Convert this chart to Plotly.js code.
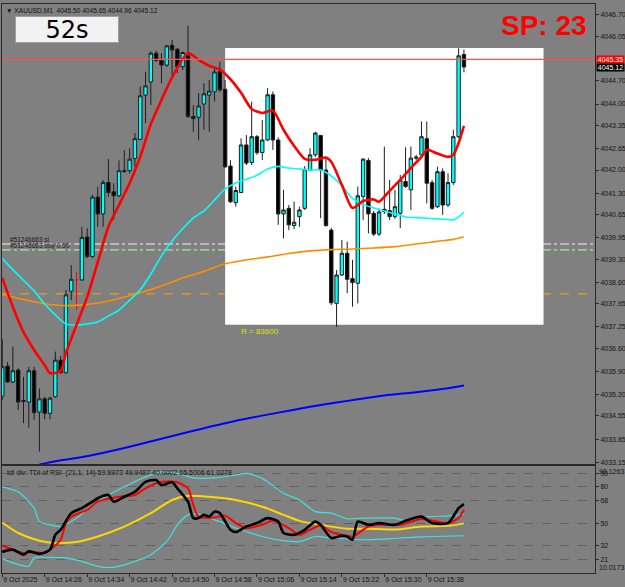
<!DOCTYPE html>
<html><head><meta charset="utf-8">
<script src="https://cdn.plot.ly/plotly-3.0.1.min.js"></script>
<style>html,body{margin:0;padding:0;background:#808080;overflow:hidden}#chart{width:625px;height:587px;}</style>
</head><body><div id="chart"></div>
<script>
// ---------- DATA ----------
const symbolTitle = 'XAUUSD,M1  4045.50 4045.65 4044.96 4045.12';
const timerText = '52s';
const spreadText = 'SP: 23';
const tickBars = [0, 8, 16, 24, 32, 40, 48, 56, 64, 72, 80];
const tickLabels = ['9 Oct 2025', '9 Oct 14:26', '9 Oct 14:34', '9 Oct 14:42', '9 Oct 14:50', '9 Oct 14:58', '9 Oct 15:06', '9 Oct 15:14', '9 Oct 15:22', '9 Oct 15:30', '9 Oct 15:38'];
const priceTicks = [4046.70, 4046.05, 4044.70, 4044.00, 4043.35, 4042.65, 4042.00, 4041.30, 4040.65, 4039.95, 4039.30, 4038.60, 4037.95, 4037.25, 4036.60, 4035.90, 4035.20, 4034.55, 4033.85, 4033.15];
const tdiTicks = [90, 80, 68, 50, 32, 21];
const tdiMin = 10.0173, tdiMax = 96.1263;

const open = [4035.15,4036.06,4035.58,4035.94,4035.02,4034.97,4035.92,4034.67,4035.07,4034.63,
4035.13,4036.24,4035.86,4038.33,4038.67,4038.67,4039.97,4039.38,4041.18,4040.67,
4041.62,4041.34,4041.22,4041.98,4041.98,4042.35,4042.93,4044.27,4044.67,4045.54,
4045.32,4045.18,4045.78,4045.66,4045.13,4045.46,4043.62,4043.60,4044.00,4044.27,
4044.37,4044.98,4044.45,4042.12,4041.01,4041.32,4042.76,4042.23,4043.01,4042.53,
4042.91,4044.28,4042.91,4040.67,4040.84,4040.32,4040.59,4040.84,4042.00,4042.46,
4043.05,4042.00,4040.18,4037.96,4038.82,4039.48,4038.71,4038.57,4041.20,4042.29,
4040.69,4040.06,4040.81,4040.77,4040.59,4040.69,4041.65,4041.40,4042.36,4042.46,
4042.95,4041.62,4040.89,4041.95,4040.94,4041.62,4043.01,4045.50];
const high = [4036.87,4036.19,4036.65,4036.00,4035.74,4036.04,4036.04,4035.38,4035.13,4035.13,
4036.50,4036.37,4038.37,4039.12,4038.92,4040.28,4040.24,4041.25,4041.50,4041.70,
4042.33,4041.60,4042.29,4042.61,4042.66,4043.12,4044.53,4044.98,4045.59,4045.62,
4045.54,4045.79,4045.94,4045.70,4045.59,4046.37,4043.97,4044.33,4044.63,4044.73,
4045.13,4045.28,4044.73,4042.30,4041.50,4042.96,4043.06,4044.07,4043.06,4043.52,
4044.48,4044.38,4042.99,4041.40,4040.94,4041.04,4040.89,4042.12,4042.66,4043.16,
4043.06,4042.40,4040.25,4038.97,4039.88,4039.83,4039.28,4041.50,4042.36,4042.36,
4040.76,4040.84,4042.71,4041.70,4041.40,4041.85,4042.69,4042.71,4042.46,4043.47,
4043.47,4041.70,4042.10,4042.05,4041.90,4043.22,4045.69,4045.65];
const low = [4035.03,4035.55,4035.55,4034.73,4034.33,4034.19,4034.43,4033.47,4034.45,4034.45,
4035.10,4035.84,4035.84,4038.06,4037.76,4038.65,4039.33,4039.34,4040.28,4040.28,
4041.19,4040.49,4041.18,4041.91,4041.90,4042.10,4042.91,4043.42,4043.97,4045.28,
4044.63,4045.12,4044.88,4044.93,4045.03,4043.58,4043.16,4042.91,4043.22,4043.16,
4044.07,4044.37,4042.06,4041.00,4040.89,4041.30,4042.15,4042.15,4042.46,4042.30,
4042.88,4042.61,4040.34,4039.93,4040.18,4040.21,4040.28,4040.79,4041.97,4042.40,
4040.54,4040.28,4037.91,4037.25,4038.79,4038.27,4037.86,4037.96,4040.49,4040.08,
4040.00,4040.00,4040.67,4040.49,4040.52,4040.24,4041.46,4040.79,4042.30,4042.40,
4040.99,4040.79,4040.85,4040.64,4040.88,4041.55,4042.97,4044.96];
const close = [4036.04,4035.58,4035.92,4034.97,4034.99,4035.92,4034.65,4035.07,4034.63,4035.09,
4036.24,4035.86,4038.22,4038.69,4038.67,4039.96,4039.38,4041.18,4040.67,4041.62,
4041.32,4041.22,4041.98,4041.96,4042.33,4042.95,4044.25,4044.55,4045.54,4045.32,
4045.18,4045.76,4045.64,4045.13,4045.56,4043.62,4043.56,4043.94,4044.31,4044.39,
4044.97,4044.43,4042.10,4041.04,4041.38,4042.76,4042.21,4043.01,4042.53,4042.91,
4044.28,4042.91,4040.67,4040.79,4040.34,4040.42,4040.79,4042.02,4042.46,4043.12,
4042.00,4040.32,4037.98,4038.82,4039.48,4038.69,4038.59,4041.22,4042.33,4040.67,
4040.06,4040.73,4040.74,4040.59,4040.89,4041.70,4041.50,4042.36,4042.39,4043.01,
4041.60,4040.84,4041.95,4040.94,4041.62,4043.01,4045.46,4045.12];
const dojiBars = [14];

const maRedBars = [0,2,4,6,8,9,11,12,14,16,18,20,22,24,26,28,30,32,35,37,39,41,43,45,47,49,51,53,55,57,59,61,62,64,66,68,70,71,73,75,77,79,80,82,84,85,86,87];
const maRedVals = [4038.73,4037.85,4037.09,4036.55,4036.09,4035.85,4035.91,4036.46,4037.31,4038.15,4039.21,4040.28,4040.94,4041.60,4042.40,4043.39,4044.12,4044.81,4045.54,4045.34,4045.16,4045.04,4044.75,4044.34,4043.85,4043.73,4043.80,4043.22,4042.73,4042.34,4042.31,4042.38,4042.25,4041.55,4040.85,4041.06,4041.11,4041.04,4041.37,4041.70,4042.06,4042.40,4042.61,4042.50,4042.40,4042.46,4042.82,4043.34];
const maCyanBars = [0,3,6,8,10,12,14,16,18,20,22,24,26,28,30,32,34,36,38,40,42,44,46,48,50,52,54,56,58,60,62,64,66,68,70,72,74,76,78,80,82,84,85,86,87];
const maCyanVals = [4039.32,4038.82,4038.34,4037.94,4037.61,4037.34,4037.30,4037.34,4037.40,4037.58,4037.76,4038.06,4038.37,4038.85,4039.40,4039.85,4040.22,4040.55,4040.76,4041.09,4041.43,4041.61,4041.72,4041.84,4042.03,4042.11,4042.06,4042.03,4042.00,4042.00,4041.82,4041.53,4041.14,4040.96,4040.85,4040.76,4040.67,4040.58,4040.56,4040.54,4040.52,4040.50,4040.49,4040.58,4040.73];
const maOrangeBars = [0,6,10,14,18,22,26,30,34,38,42,46,50,54,58,62,66,70,74,78,82,85,87];
const maOrangeVals = [4038.22,4038.01,4037.91,4037.90,4037.97,4038.11,4038.28,4038.49,4038.73,4038.93,4039.16,4039.28,4039.37,4039.47,4039.55,4039.59,4039.61,4039.64,4039.68,4039.76,4039.84,4039.90,4039.97];
const maBlueBars = [7,10,14,18,24,30,36,42,48,54,60,66,72,78,84,87];
const maBlueVals = [4033.08,4033.18,4033.28,4033.40,4033.62,4033.86,4034.10,4034.33,4034.53,4034.71,4034.88,4035.03,4035.17,4035.27,4035.39,4035.47];

const askPrice = 4045.35;
const slPrice = 4039.76;
const entryPrice = 4039.58;
const levelPrice = 4038.25;
const slText = '#51246663 sl';
const entryText = '#51246663 buy 0.50';
const rectStartBar = 42, rectEndBar = 102, rectHigh = 4045.70, rectLow = 4037.31;
const rectText = 'R = 83600';

const rsiBars = [0,2,4,5,7,9,10,11,13,15,17,18,20,21,23,25,27,29,30,32,33,35,36,37,38,39,40,41,43,44,46,48,50,52,53,55,57,59,60,62,64,65,66,67,69,71,74,76,79,81,84,86,87];
const rsiVals = [27.0,28.8,24.8,27.4,25.4,28.8,40.8,44.8,58.2,62.2,67.4,70.2,72.8,67.4,71.4,75.4,83.4,84.8,80.8,83.0,78.2,67.4,54.2,54.2,56.8,55.4,59.4,58.2,44.8,43.0,47.4,50.2,54.2,51.4,42.2,40.8,44.8,51.4,48.8,38.2,40.0,39.4,36.8,51.4,48.8,50.2,48.8,52.0,55.4,50.2,50.2,62.2,65.5];
const sigBars = [0,2,4,6,8,9,11,12,13,16,18,22,25,27,30,33,35,36,37,40,42,44,46,49,51,54,56,58,60,62,64,66,69,71,75,79,82,84,86,87];
const sigVals = [32.2,28.8,26.2,27.0,26.2,28.8,36.8,50.2,55.4,60.8,67.4,71.4,72.8,78.2,83.4,83.0,78.2,64.8,55.4,54.6,56.2,50.2,46.2,48.8,52.0,46.2,40.8,44.8,48.2,43.0,40.8,39.4,47.4,48.8,48.8,53.4,51.4,50.2,54.2,61.0];
const baseBars = [0,3,7,10,14,18,23,28,32,35,39,44,49,53,56,60,65,69,74,79,84,87];
const baseVals = [50.6,42.2,36.0,34.2,35.0,39.4,47.4,58.2,68.8,72.2,71.4,68.8,63.4,56.8,52.0,48.8,45.6,45.6,45.0,47.4,48.0,49.95];
const upBars = [0,3,6,7,9,11,14,17,20,23,27,30,33,36,40,44,46,49,53,56,59,62,65,68,74,76,79,85,87];
const upVals = [79.4,75.4,62.2,51.4,48.8,47.4,54.2,64.8,72.8,79.4,87.4,91.4,90.2,86.6,86.6,88.8,90.2,86.2,74.2,68.8,59.4,58.2,53.6,54.2,54.2,52.2,54.9,56.2,57.4];
const loBars = [0,2,5,6,9,12,15,18,21,25,28,31,33,35,37,40,44,49,53,56,59,62,69,75,81,87];
const loVals = [21.6,18.2,15.4,22.2,22.6,22.2,19.4,15.4,14.6,19.4,24.8,35.4,48.8,56.8,57.4,52.8,46.2,39.4,36.0,35.2,39.4,38.2,36.8,38.2,39.4,40.0];
const tdiLabel = 'tdi div: TDI of RSI  (21,1, 14) 59.8973 49.9487 40.0002 65.5006 61.0278';

// ---------- BUILD ----------
const FONT = 'Liberation Sans, Arial, sans-serif';
const bars = open.map((_, i) => i);
const keep = bars.filter(i => !dojiBars.includes(i));
const pick = (arr) => keep.map(i => arr[i]);

const candle = {
  type: 'candlestick', x: keep, open: pick(open), high: pick(high), low: pick(low), close: pick(close),
  xaxis: 'x', yaxis: 'y', whiskerwidth: 0,
  increasing: {fillcolor: '#00ffff', line: {color: '#1e1e1e', width: 1}},
  decreasing: {fillcolor: '#000000', line: {color: '#1e1e1e', width: 1}},
  hoverinfo: 'skip'
};
const dx = [], dy = [];
dojiBars.forEach(i => {
  dx.push(i, i, null, i - 0.3, i + 0.3, null);
  dy.push(high[i], low[i], null, open[i], close[i], null);
});
const doji = {type: 'scatter', mode: 'lines', x: dx, y: dy, line: {color: '#ff0000', width: 1}, xaxis: 'x', yaxis: 'y', hoverinfo: 'skip'};

function line(xs, ys, color, width, ax) {
  return {type: 'scatter', mode: 'lines', x: xs, y: ys, xaxis: ax[0], yaxis: ax[1],
    line: {color: color, width: width, shape: 'spline', smoothing: 0.7}, hoverinfo: 'skip'};
}
const M = ['x', 'y'], S = ['x2', 'y2'];
const traces = [
  candle, doji,
  line(maBlueBars, maBlueVals, '#0000ff', 2, M),
  line(maOrangeBars, maOrangeVals, '#ff8c00', 1.6, M),
  line(maCyanBars, maCyanVals, '#00ffff', 1.6, M),
  line(maRedBars, maRedVals, '#ff0000', 2.6, M),
  line(upBars, upVals, '#40e0e0', 1.2, S),
  line(loBars, loVals, '#40e0e0', 1.2, S),
  line(baseBars, baseVals, '#ffd700', 2, S),
  line(sigBars, sigVals, '#ff0000', 2, S),
  line(rsiBars, rsiVals, '#000000', 2.6, S)
];

const axisLine = '#2a2a2a';
const layout = {
  width: 625, height: 587,
  paper_bgcolor: '#808080', plot_bgcolor: '#808080',
  margin: {l: 2, r: 30, t: 4, b: 14},
  showlegend: false, hovermode: false, dragmode: false,
  font: {family: FONT, size: 7, color: '#151515'},
  boxgap: 0.2, boxgroupgap: 0.2,
  xaxis: {domain: [0, 1], range: [-0.05, 111.7], anchor: 'y', showticklabels: false, ticks: '',
    showgrid: false, zeroline: false, showline: true, mirror: true, linecolor: axisLine, linewidth: 1,
    rangeslider: {visible: false}, fixedrange: true},
  xaxis2: {domain: [0, 1], matches: 'x', anchor: 'y2', showgrid: false, zeroline: false,
    showline: true, mirror: true, linecolor: axisLine, linewidth: 1,
    tickmode: 'array', tickvals: tickBars, ticktext: tickLabels, ticks: 'outside', ticklen: 3,
    tickangle: 0, automargin: false,
    tickcolor: axisLine, ticklabelposition: 'outside right', tickfont: {size: 7, color: '#151515'},
    rangeslider: {visible: false}, fixedrange: true},
  yaxis: {domain: [0.1907, 1], range: [4033.08, 4047.03], side: 'right', anchor: 'x',
    showgrid: false, zeroline: false, showline: true, mirror: true, linecolor: axisLine, linewidth: 1,
    tickmode: 'array', tickvals: priceTicks, ticktext: priceTicks.map(v => v.toFixed(2)),
    ticks: 'outside', ticklen: 3, tickcolor: axisLine, tickfont: {size: 7, color: '#151515'}, fixedrange: true},
  yaxis2: {domain: [0, 0.188], range: [tdiMin, tdiMax], side: 'right', anchor: 'x2',
    showgrid: true, gridcolor: '#626262', griddash: 'dash', gridwidth: 1, zeroline: false,
    showline: true, mirror: true, linecolor: axisLine, linewidth: 1,
    tickmode: 'array', tickvals: tdiTicks, ticktext: tdiTicks.map(String),
    ticks: 'outside', ticklen: 3, tickcolor: axisLine, tickfont: {size: 7, color: '#151515'}, fixedrange: true},
  shapes: [
    {type: 'rect', xref: 'x', yref: 'y', x0: rectStartBar, x1: rectEndBar, y0: rectLow, y1: rectHigh,
      fillcolor: '#ffffff', line: {width: 0}, layer: 'below'},
    {type: 'line', xref: 'paper', yref: 'y', x0: 0, x1: 1, y0: slPrice, y1: slPrice,
      line: {color: '#f0f0f0', width: 1, dash: 'dashdot'}, layer: 'below'},
    {type: 'line', xref: 'paper', yref: 'y', x0: 0, x1: 1, y0: entryPrice, y1: entryPrice,
      line: {color: '#a8e8a0', width: 1.3, dash: 'dashdot'}, layer: 'below'},
    {type: 'line', xref: 'paper', yref: 'y', x0: 0, x1: 1, y0: levelPrice, y1: levelPrice,
      line: {color: '#ffa500', width: 1, dash: 'dash'}, layer: 'below'},
    {type: 'line', xref: 'paper', yref: 'y', x0: 0, x1: 1, y0: askPrice, y1: askPrice,
      line: {color: '#ff5050', width: 1.3}, layer: 'above'}
  ],
  annotations: [
    {xref: 'paper', yref: 'paper', x: 0, y: 1, xanchor: 'left', yanchor: 'top', xshift: 2, yshift: -1,
      text: '▼ ' + symbolTitle, showarrow: false, font: {size: 6.6, color: '#111111'}},
    {xref: 'paper', yref: 'paper', x: 0.0219, y: 0.979, xanchor: 'left', yanchor: 'top',
      text: timerText, showarrow: false, font: {family: 'DejaVu Sans, sans-serif', size: 24, color: '#000000'},
      bgcolor: '#f2f2f2', bordercolor: '#a0a0a0', borderwidth: 1, borderpad: 1, width: 100, height: 23},
    {xref: 'paper', yref: 'paper', x: 0.914, y: 0.963, xanchor: 'center', yanchor: 'middle',
      text: '<b>' + spreadText + '</b>', showarrow: false, font: {family: FONT, size: 28, color: '#ff0000'}},
    {xref: 'paper', yref: 'y', x: 1, y: askPrice, xanchor: 'left', yanchor: 'middle', xshift: 1,
      text: askPrice.toFixed(2), showarrow: false, font: {size: 7, color: '#ffffff'}, bgcolor: '#ff0000', borderpad: 0, width: 27},
    {xref: 'paper', yref: 'y', x: 1, y: close[close.length - 1], xanchor: 'left', yanchor: 'middle', xshift: 1,
      text: close[close.length - 1].toFixed(2), showarrow: false, font: {size: 7, color: '#ffffff'}, bgcolor: '#000000', borderpad: 0, width: 27},
    {xref: 'x', yref: 'y', x: 1, y: slPrice, xanchor: 'left', yanchor: 'bottom', yshift: -1,
      text: slText, showarrow: false, font: {size: 6.5, color: '#1a1a1a'}},
    {xref: 'x', yref: 'y', x: 1, y: entryPrice, xanchor: 'left', yanchor: 'bottom', yshift: -2,
      text: entryText, showarrow: false, font: {size: 6.5, color: '#1a1a1a'}},
    {xref: 'x', yref: 'y', x: rectStartBar + 2.7, y: rectLow, xanchor: 'left', yanchor: 'top',
      text: rectText, showarrow: false, font: {size: 8, color: '#e0e000'}},
    {xref: 'paper', yref: 'paper', x: 0, y: 0.188, xanchor: 'left', yanchor: 'top', xshift: 3, yshift: -1,
      text: tdiLabel, showarrow: false, font: {size: 7, color: '#151515'}},
    {xref: 'paper', yref: 'y2', x: 1, y: tdiMax, xanchor: 'left', yanchor: 'top', xshift: 2,
      text: tdiMax.toFixed(4), showarrow: false, font: {size: 7, color: '#151515'}},
    {xref: 'paper', yref: 'y2', x: 1, y: tdiMin, xanchor: 'left', yanchor: 'bottom', xshift: 2,
      text: tdiMin.toFixed(4), showarrow: false, font: {size: 7, color: '#151515'}}
  ]
};
Plotly.newPlot('chart', traces, layout, {staticPlot: true, displayModeBar: false});
</script></body></html>
